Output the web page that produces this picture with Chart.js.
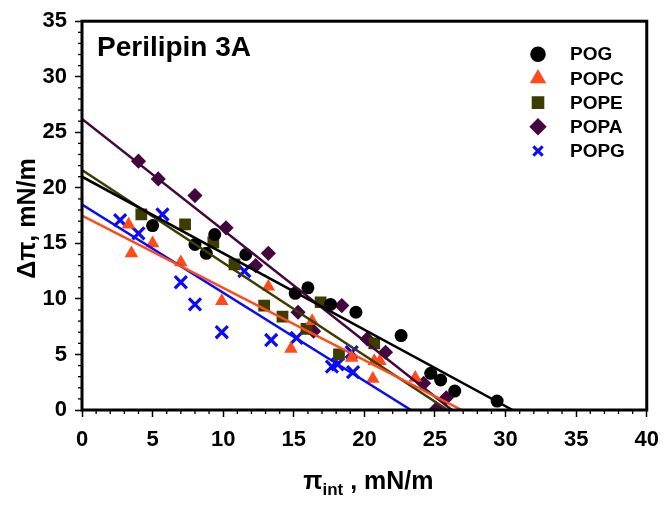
<!DOCTYPE html>
<html>
<head>
<meta charset="utf-8">
<script src="https://cdn.jsdelivr.net/npm/chart.js@4/dist/chart.umd.min.js"></script>
<style>
  html, body { margin: 0; padding: 0; background: #fff; }
  #wrap { width: 669px; height: 508px; }
</style>
</head>
<body>
<div id="wrap"><canvas id="chart" width="669" height="508"></canvas></div>
<script>
const seriesNames = ['POG', 'POPC', 'POPE', 'POPA', 'POPG'];

const pogX = [5.0, 8.0, 8.8, 9.4, 11.6, 15.1, 16.0, 17.6, 19.4, 22.6, 24.7, 25.4, 26.4, 29.4];
const pogY = [16.6, 14.9, 14.1, 15.8, 14.0, 10.5, 11.0, 9.5, 8.8, 6.7, 3.3, 2.7, 1.7, 0.8];

const popcX = [3.3, 3.5, 5.0, 7.0, 9.9, 13.2, 14.8, 16.3, 19.1, 20.6, 20.7, 21.1, 23.6];
const popcY = [16.7, 14.1, 15.0, 13.3, 9.8, 11.1, 5.5, 8.0, 4.7, 2.8, 4.4, 4.4, 2.9];

const popeX = [4.2, 7.3, 9.3, 10.8, 12.9, 14.2, 15.9, 16.9, 18.2, 20.7];
const popeY = [17.6, 16.7, 15.1, 13.1, 9.4, 8.4, 7.3, 9.7, 5.0, 6.0];

const popaX = [4.0, 5.4, 8.0, 10.2, 12.3, 13.2, 15.3, 16.4, 18.4, 20.2, 21.5, 24.2, 25.1, 25.8];
const popaY = [22.4, 20.8, 19.3, 16.4, 13.0, 14.1, 8.8, 7.1, 9.4, 6.4, 5.2, 2.4, 0.1, 1.1];

const popgX = [2.7, 4.0, 5.7, 7.0, 8.0, 9.9, 11.5, 13.4, 15.2, 17.7, 18.1, 19.1, 19.2];
const popgY = [17.1, 15.9, 17.6, 11.5, 9.5, 7.0, 12.5, 6.3, 6.5, 3.9, 4.1, 5.2, 3.4];

// linear fits: value at pi_int = 0 and pi_int where delta pi reaches 0
const fitIntercept = [21.0, 17.5, 21.6, 26.2, 18.5];
const fitXCross = [30.5, 26.9, 25.9, 26.2, 23.3];

const xTicks = [0, 5, 10, 15, 20, 25, 30, 35, 40];
const yTicks = [0, 5, 10, 15, 20, 25, 30, 35];

const colors = ['#000000', '#ff4a1a', '#3d3d00', '#44063f', '#0a0aff'];
const styles = ['circle', 'triangle', 'rect', 'rectRot', 'crossRot'];
const radii = [6.5, 7.8, 8.3, 7.6, 8.5];
const legendRadii = [6.3, 6.5, 6.8, 6.6, 6.6];

const xs = [pogX, popcX, popeX, popaX, popgX];
const ys = [pogY, popcY, popeY, popaY, popgY];

const datasets = [];
seriesNames.forEach((name, i) => {
    datasets.push({
        type: 'line',
        label: name + ' fit',
        data: [{ x: 0, y: fitIntercept[i] }, { x: fitXCross[i], y: 0 }],
        borderColor: colors[i],
        borderWidth: 2.5,
        pointRadius: 0,
        fill: false,
        order: 1
    });
});
seriesNames.forEach((name, i) => {
    datasets.push({
        type: 'scatter',
        label: name,
        data: xs[i].map((x, k) => ({ x: x, y: ys[i][k] })),
        pointStyle: styles[i],
        pointRadius: radii[i],
        backgroundColor: colors[i],
        borderColor: colors[i],
        borderWidth: styles[i] === 'crossRot' ? 3.2 : 0,
        order: 2
    });
});

const FONT = '"Liberation Sans", Arial, sans-serif';

// frame, minor ticks, titles and legend
const decor = {
    id: 'decor',
    afterDraw(chart) {
        const ctx = chart.ctx;
        const a = chart.chartArea;
        const sx = chart.scales.x, sy = chart.scales.y;
        ctx.save();
        ctx.strokeStyle = '#000';
        ctx.lineWidth = 1.3;
        for (let v = 0; v <= 40; v++) {
            if (v % 5 === 0) continue;
            const px = sx.getPixelForValue(v);
            ctx.beginPath(); ctx.moveTo(px, a.bottom); ctx.lineTo(px, a.bottom + 4); ctx.stroke();
        }
        for (let v = 0; v <= 35; v++) {
            if (v % 5 === 0) continue;
            const py = sy.getPixelForValue(v);
            ctx.beginPath(); ctx.moveTo(a.left, py); ctx.lineTo(a.left - 4, py); ctx.stroke();
        }
        ctx.lineWidth = 3;
        ctx.strokeRect(a.left, a.top, a.right - a.left, a.bottom - a.top);

        // panel title
        ctx.fillStyle = '#000';
        ctx.font = 'bold 28px ' + FONT;
        ctx.textAlign = 'left';
        ctx.textBaseline = 'alphabetic';
        ctx.fillText('Perilipin 3A', a.left + 15, a.top + 35);

        // legend
        ctx.font = 'bold 19px ' + FONT;
        ctx.textBaseline = 'middle';
        seriesNames.forEach((name, i) => {
            const y = a.top + 33 + i * 24.2;
            ctx.fillStyle = colors[i];
            ctx.strokeStyle = colors[i];
            ctx.lineWidth = styles[i] === 'crossRot' ? 3 : 0;
            Chart.helpers.drawPoint(ctx, {
                pointStyle: styles[i],
                radius: legendRadii[i],
                rotation: 0,
                borderWidth: ctx.lineWidth
            }, 538, y);
            ctx.fillStyle = '#000';
            ctx.fillText(name, 570, y + 1);
        });

        // y axis title
        ctx.save();
        ctx.translate(28, (a.top + a.bottom) / 2 + 3);
        ctx.rotate(-Math.PI / 2);
        ctx.font = 'bold 25px ' + FONT;
        ctx.textAlign = 'center';
        ctx.textBaseline = 'middle';
        ctx.fillStyle = '#000';
        ctx.fillText('\u0394\u03c0, mN/m', 0, 0);
        ctx.restore();

        // x axis title with subscript
        const big = 'bold 25px ' + FONT, small = 'bold 17px ' + FONT;
        ctx.textAlign = 'left';
        ctx.textBaseline = 'alphabetic';
        ctx.font = big; const w1 = ctx.measureText('\u03c0').width;
        ctx.font = small; const w2 = ctx.measureText('int').width;
        ctx.font = big; const w3 = ctx.measureText(' , mN/m').width;
        let x0 = (a.left + a.right) / 2 - (w1 + w2 + w3) / 2 + 4;
        const base = 489;
        ctx.font = big; ctx.fillText('\u03c0', x0, base);
        ctx.font = small; ctx.fillText('int', x0 + w1, base + 6);
        ctx.font = big; ctx.fillText(' , mN/m', x0 + w1 + w2, base);
        ctx.restore();
    }
};

new Chart(document.getElementById('chart').getContext('2d'), {
    data: { datasets: datasets },
    options: {
        responsive: false,
        animation: false,
        layout: { padding: { top: 10, right: 12, left: 0, bottom: 0 } },
        plugins: { legend: { display: false }, tooltip: { enabled: false } },
        scales: {
            x: {
                type: 'linear',
                min: xTicks[0],
                max: xTicks[xTicks.length - 1],
                afterFit: (s) => { s.height = 98; },
                afterBuildTicks: (s) => { s.ticks = xTicks.map(v => ({ value: v })); },
                border: { display: false },
                grid: { drawOnChartArea: false, tickLength: 7, tickColor: '#000', tickWidth: 1.5 },
                ticks: { color: '#000', padding: 10, font: { family: FONT, size: 22, weight: 'bold' } }
            },
            y: {
                type: 'linear',
                min: yTicks[0],
                max: yTicks[yTicks.length - 1],
                afterFit: (s) => { s.width = 82; },
                afterBuildTicks: (s) => { s.ticks = yTicks.map(v => ({ value: v })); },
                border: { display: false },
                grid: { drawOnChartArea: false, tickLength: 7, tickColor: '#000', tickWidth: 1.5 },
                ticks: { color: '#000', padding: 8, font: { family: FONT, size: 22, weight: 'bold' } }
            }
        }
    },
    plugins: [decor]
});
</script>
</body>
</html>
